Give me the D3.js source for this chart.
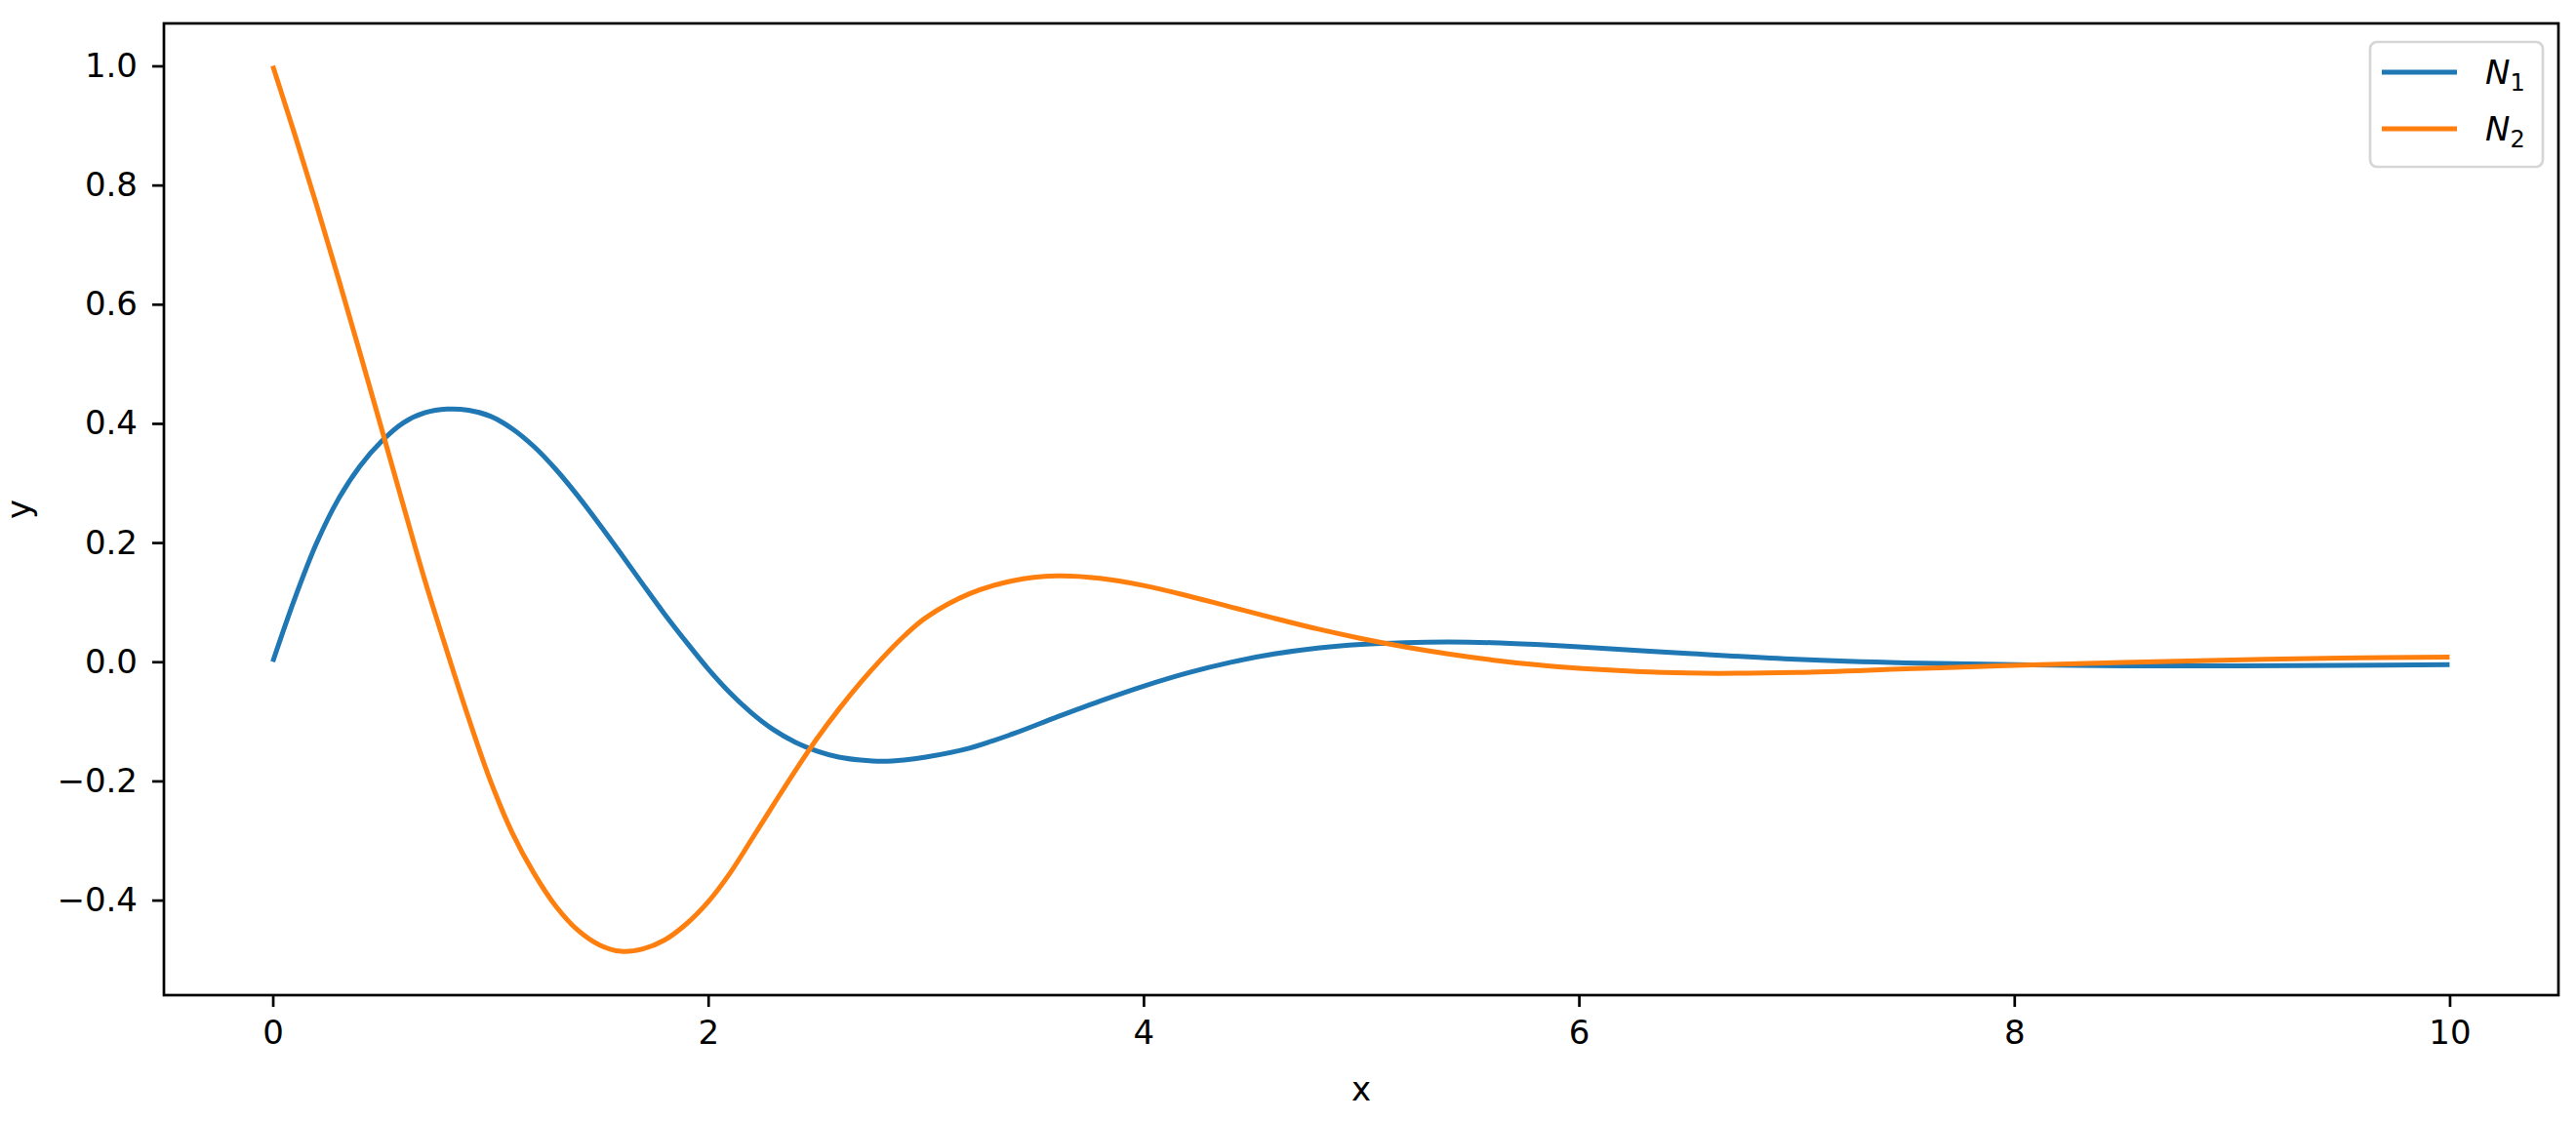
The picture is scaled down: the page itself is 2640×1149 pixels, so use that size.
<!DOCTYPE html>
<html>
<head>
<meta charset="utf-8">
<script src="https://cdn.jsdelivr.net/npm/d3@7"></script>
<style>
  html, body { margin: 0; padding: 0; background: #fff; }
  svg { display: block; }
  text { font-family: "DejaVu Sans", sans-serif; fill: #000; }
</style>
</head>
<body>
<svg id="chart" width="2640" height="1149"></svg>
<script>
// ---- data ----
const xs = [0, 0.1, 0.2, 0.3, 0.4, 0.5, 0.6, 0.7, 0.8, 0.9,
            1.0, 1.1, 1.2, 1.3, 1.4, 1.5, 1.6, 1.7, 1.8, 1.9,
            2.0, 2.1, 2.2, 2.3, 2.4, 2.5, 2.6, 2.7, 2.8, 2.9,
            3.0, 3.2, 3.4, 3.6, 3.8, 4.0, 4.2, 4.4, 4.6, 4.8,
            5.0, 5.2, 5.4, 5.6, 5.8, 6.0, 6.5, 7.0, 7.5, 8.0,
            8.5, 9.0, 9.5, 10.0];
const n1Values = [0, 0.105, 0.198, 0.272, 0.328, 0.370, 0.401, 0.418, 0.424, 0.422,
                  0.412, 0.391, 0.361, 0.323, 0.279, 0.231, 0.181, 0.130, 0.080, 0.033,
                  -0.012, -0.052, -0.086, -0.114, -0.135, -0.150, -0.160, -0.165, -0.167, -0.165,
                  -0.160, -0.145, -0.121, -0.093, -0.066, -0.041, -0.019, -0.001, 0.013, 0.023,
                  0.029, 0.032, 0.033, 0.032, 0.029, 0.025, 0.014, 0.004, -0.002, -0.005,
                  -0.007, -0.007, -0.006, -0.005];
const n2Values = [1.000, 0.886, 0.768, 0.645, 0.519, 0.391, 0.262, 0.135, 0.018, -0.095,
                  -0.200, -0.287, -0.355, -0.410, -0.450, -0.475, -0.486, -0.482, -0.467, -0.440,
                  -0.403, -0.355, -0.298, -0.240, -0.183, -0.129, -0.080, -0.035, 0.006, 0.043,
                  0.074, 0.114, 0.136, 0.144, 0.140, 0.128, 0.111, 0.092, 0.073, 0.055,
                  0.039, 0.025, 0.013, 0.003, -0.005, -0.011, -0.019, -0.018, -0.012, -0.006,
                  -0.001, 0.003, 0.006, 0.008];
const seriesNames = ["N1", "N2"];
const seriesColors = ["#1f77b4", "#ff7f0e"];
const xTicks = [0, 2, 4, 6, 8, 10];
const yTicks = [-0.4, -0.2, 0.0, 0.2, 0.4, 0.6, 0.8, 1.0];
const xDomain = [-0.5, 10.5];
const yDomain = [-0.5595, 1.0712];
const xLabel = "x";
const yLabel = "y";

// ---- layout ----
const W = 2640, H = 1149;
const plot = { left: 168, right: 2622, top: 24, bottom: 1020 };
const fontSize = 34;
const tickLen = 12;
const axisW = 2.7;

const svg = d3.select("#chart");
const x = d3.scaleLinear().domain(xDomain).range([plot.left, plot.right]);
const y = d3.scaleLinear().domain(yDomain).range([plot.bottom, plot.top]);

svg.append("rect").attr("width", W).attr("height", H).attr("fill", "#fff");

svg.append("clipPath").attr("id", "clip").append("rect")
  .attr("x", plot.left).attr("y", plot.top)
  .attr("width", plot.right - plot.left).attr("height", plot.bottom - plot.top);

const series = [n1Values, n2Values].map((vals, i) => ({
  name: seriesNames[i], color: seriesColors[i],
  points: xs.map((xv, j) => [xv, vals[j]])
}));

const line = d3.line().x(d => x(d[0])).y(d => y(d[1])).curve(d3.curveCatmullRom.alpha(0.5));

const g = svg.append("g").attr("clip-path", "url(#clip)");
series.forEach(s => {
  g.append("path").attr("d", line(s.points))
    .attr("fill", "none").attr("stroke", s.color)
    .attr("stroke-width", 5).attr("stroke-linecap", "butt").attr("stroke-linejoin", "round");
});

// axes
const xAxis = d3.axisBottom(x).tickValues(xTicks).tickFormat(d3.format("d"))
  .tickSize(tickLen).tickPadding(14);
const yAxis = d3.axisLeft(y).tickValues(yTicks).tickFormat(d3.format(".1f"))
  .tickSize(tickLen).tickPadding(15);

const gx = svg.append("g").attr("transform", `translate(0,${plot.bottom})`).call(xAxis);
const gy = svg.append("g").attr("transform", `translate(${plot.left},0)`).call(yAxis);
[gx, gy].forEach(ga => {
  ga.select(".domain").remove();
  ga.selectAll(".tick line").attr("stroke", "#000").attr("stroke-width", axisW);
  ga.selectAll(".tick text").attr("font-size", fontSize).attr("font-family", "DejaVu Sans").attr("fill", "#000");
});

// frame
svg.append("rect")
  .attr("x", plot.left).attr("y", plot.top)
  .attr("width", plot.right - plot.left).attr("height", plot.bottom - plot.top)
  .attr("fill", "none").attr("stroke", "#000").attr("stroke-width", axisW);

// axis labels
svg.append("text").attr("x", (plot.left + plot.right) / 2).attr("y", 1128)
  .attr("text-anchor", "middle").attr("font-size", fontSize).text(xLabel);
svg.append("text").attr("transform", `translate(31,${(plot.top + plot.bottom) / 2}) rotate(-90)`)
  .attr("text-anchor", "middle").attr("font-size", fontSize).text(yLabel);

// legend
const lg = svg.append("g");
lg.append("rect").attr("x", 2429).attr("y", 43).attr("width", 177).attr("height", 128)
  .attr("rx", 7).attr("ry", 7)
  .attr("fill", "#fff").attr("fill-opacity", 0.8).attr("stroke", "#d6d6d6").attr("stroke-width", 2.7);
series.forEach((s, i) => {
  const yy = 74 + i * 58;
  lg.append("line").attr("x1", 2441).attr("x2", 2518).attr("y1", yy).attr("y2", yy)
    .attr("stroke", s.color).attr("stroke-width", 5);
  const t = lg.append("text").attr("x", 2547).attr("y", yy + 12).attr("font-size", 34);
  t.append("tspan").attr("font-style", "italic").text(s.name.charAt(0));
  t.append("tspan").attr("font-size", 24).attr("dy", 7).text(s.name.slice(1));
});
</script>
</body>
</html>
